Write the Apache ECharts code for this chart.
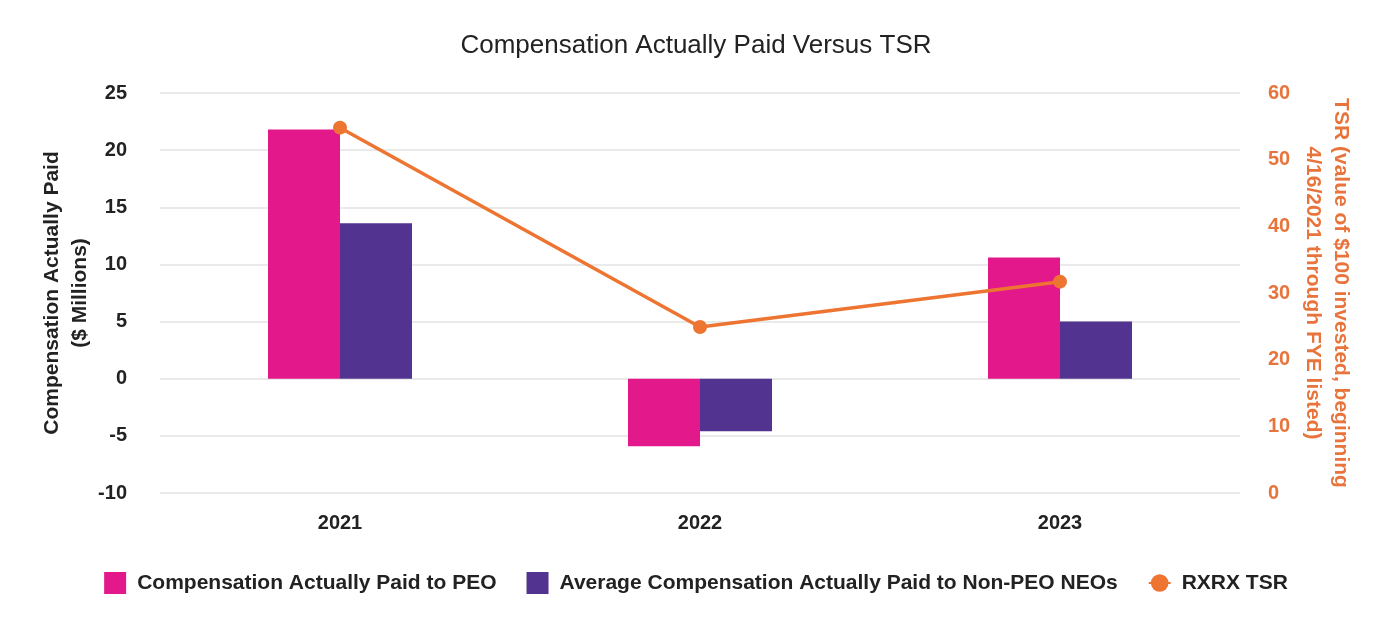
<!DOCTYPE html>
<html><head><meta charset="utf-8">
<script src="https://cdn.jsdelivr.net/npm/echarts@6/dist/echarts.min.js"></script>
<style>html,body{margin:0;padding:0;background:#fff}#c{width:1392px;height:632px}</style>
</head><body><div id="c"></div>
<script>
const categories = ['2021', '2022', '2023'];
const peoValues = [21.8, -5.9, 10.6];
const neoValues = [13.6, -4.6, 5.0];
const tsrValues = [54.8, 24.9, 31.7];
const seriesNames = ['Compensation Actually Paid to PEO', 'Average Compensation Actually Paid to Non-PEO NEOs', 'RXRX TSR'];

const chart = echarts.init(document.getElementById('c'));
const font = 'Liberation Sans, Arial, sans-serif';
chart.setOption({
  animation: false,
  title: { text: 'Compensation Actually Paid Versus TSR', left: 'center', top: 28,
    textStyle: { fontFamily: font, fontSize: 26, fontWeight: 'normal', color: '#222' } },
  legend: {
    bottom: 33, left: 'center', itemGap: 30, itemWidth: 22, itemHeight: 22,
    textStyle: { fontFamily: font, fontSize: 21, fontWeight: 'bold', color: '#222', padding: [0, 0, 0, 6] },
    data: [
      { name: seriesNames[0], icon: 'rect' },
      { name: seriesNames[1], icon: 'rect' },
      { name: seriesNames[2] }
    ]
  },
  grid: { left: 160, right: 152, top: 93, bottom: 139, containLabel: false },
  xAxis: {
    type: 'category', data: categories,
    axisLine: { show: false, onZero: false }, axisTick: { show: false },
    axisLabel: { fontFamily: font, fontSize: 20, fontWeight: 'bold', color: '#222', margin: 20 }
  },
  yAxis: [
    { type: 'value', min: -10, max: 25, interval: 5,
      name: 'Compensation Actually Paid\n($ Millions)', nameLocation: 'middle', nameGap: 66, nameMoveOverlap: false,
      nameTextStyle: { fontFamily: font, fontSize: 21, fontWeight: 'bold', color: '#222', lineHeight: 28 },
      axisLine: { show: false }, axisTick: { show: false },
      axisLabel: { fontFamily: font, fontSize: 20, fontWeight: 'bold', color: '#222', margin: 33 },
      splitLine: { lineStyle: { color: '#e3e3e3', width: 1.5 } } },
    { type: 'value', min: 0, max: 60, interval: 10, position: 'right',
      name: 'TSR (value of $100 invested, beginning\n4/16/2021 through FYE listed)', nameLocation: 'middle', nameGap: 59, nameRotate: -90, nameMoveOverlap: false,
      nameTextStyle: { fontFamily: font, fontSize: 21, fontWeight: 'bold', color: '#E8743B', lineHeight: 28 },
      axisLine: { show: false }, axisTick: { show: false },
      axisLabel: { fontFamily: font, fontSize: 20, fontWeight: 'bold', color: '#E8743B', margin: 28 },
      splitLine: { show: false } }
  ],
  series: [
    { name: seriesNames[0], type: 'bar', data: peoValues, barWidth: 72, barGap: '0%',
      itemStyle: { color: '#E3198B' } },
    { name: seriesNames[1], type: 'bar', data: neoValues, barWidth: 72, barGap: '0%',
      itemStyle: { color: '#52338F' } },
    { name: seriesNames[2], type: 'line', yAxisIndex: 1, data: tsrValues,
      symbol: 'circle', symbolSize: 14, lineStyle: { color: '#ED7431', width: 3.5 },
      itemStyle: { color: '#ED7431' } }
  ]
});
</script></body></html>
